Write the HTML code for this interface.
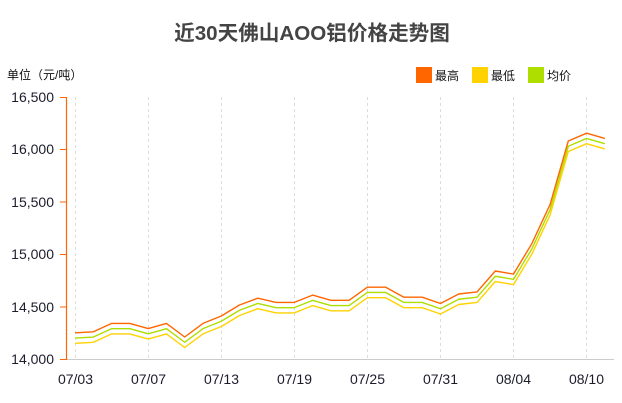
<!DOCTYPE html>
<html><head><meta charset="utf-8"><style>
html,body{margin:0;padding:0;background:#fff;}
body{width:622px;height:403px;overflow:hidden;position:relative;}
svg{position:absolute;left:0;top:0;}
</style></head><body>
<svg width="622" height="403" viewBox="0 0 622 403" xmlns="http://www.w3.org/2000/svg">
<text x="312" y="40" text-anchor="middle" font-family="'Liberation Sans','Noto Sans CJK SC',sans-serif" font-size="20.6" font-weight="bold" fill="#444">近30天佛山AOO铝价格走势图</text>
<text x="7" y="79" font-family="'Liberation Sans','Noto Sans CJK SC',sans-serif" font-size="12" fill="#111">单位（元/吨）</text>
<rect x="416" y="67" width="16" height="16" fill="#FF6600"/>
<text x="435" y="80" font-family="'Liberation Sans','Noto Sans CJK SC',sans-serif" font-size="12" fill="#111">最高</text>
<rect x="472" y="67" width="16" height="16" fill="#FFD200"/>
<text x="491" y="80" font-family="'Liberation Sans','Noto Sans CJK SC',sans-serif" font-size="12" fill="#111">最低</text>
<rect x="528" y="67" width="16" height="16" fill="#AEDD00"/>
<text x="547" y="80" font-family="'Liberation Sans','Noto Sans CJK SC',sans-serif" font-size="12" fill="#111">均价</text>
<g stroke="#dcdcdc" stroke-width="1" stroke-dasharray="3,3">
<line x1="75.5" y1="97" x2="75.5" y2="359"/>
<line x1="148.5" y1="97" x2="148.5" y2="359"/>
<line x1="221.5" y1="97" x2="221.5" y2="359"/>
<line x1="294.5" y1="97" x2="294.5" y2="359"/>
<line x1="367.5" y1="97" x2="367.5" y2="359"/>
<line x1="440.5" y1="97" x2="440.5" y2="359"/>
<line x1="513.5" y1="97" x2="513.5" y2="359"/>
<line x1="586.5" y1="97" x2="586.5" y2="359"/>
</g>
<line x1="66" y1="359.5" x2="614" y2="359.5" stroke="#cccccc" stroke-width="1"/>
<line x1="66.5" y1="97" x2="66.5" y2="360" stroke="#FF6600" stroke-width="1.2"/>
<g stroke="#FF6600" stroke-width="1">
<line x1="60" y1="97.5" x2="66" y2="97.5"/>
<line x1="60" y1="149.5" x2="66" y2="149.5"/>
<line x1="60" y1="202" x2="66" y2="202"/>
<line x1="60" y1="254.5" x2="66" y2="254.5"/>
<line x1="60" y1="307" x2="66" y2="307"/>
<line x1="60" y1="359.5" x2="66" y2="359.5"/>
</g>
<g font-family="'Liberation Sans',sans-serif" font-size="14" fill="#1c1c2c" text-anchor="end">
<text x="54" y="102">16,500</text>
<text x="54" y="154">16,000</text>
<text x="54" y="207">15,500</text>
<text x="54" y="259">15,000</text>
<text x="54" y="312">14,500</text>
<text x="54" y="364">14,000</text>
</g>
<g font-family="'Liberation Sans',sans-serif" font-size="14" fill="#1c1c2c" text-anchor="middle">
<text x="75.5" y="384">07/03</text>
<text x="148.5" y="384">07/07</text>
<text x="221.5" y="384">07/13</text>
<text x="294.5" y="384">07/19</text>
<text x="367.5" y="384">07/25</text>
<text x="440.5" y="384">07/31</text>
<text x="513.5" y="384">08/04</text>
<text x="586.5" y="384">08/10</text>
</g>
<defs>
<polyline id="s" fill="none" stroke-width="1.4" stroke-linejoin="round" points="75.1,332.8 93.4,331.8 111.7,323.4 129.9,323.4 148.2,328.6 166.5,323.4 184.7,337.0 203.0,323.4 221.3,316.0 239.5,305.0 257.8,298.2 276.1,302.4 294.3,302.4 312.6,295.1 330.9,300.3 349.1,300.3 367.4,287.2 385.7,287.2 403.9,297.2 422.2,297.2 440.5,303.5 458.7,294.0 477.0,291.9 495.3,271.0 513.5,274.1 531.8,243.7 550.1,204.4 568.3,141.0 586.6,133.2 604.9,138.4"/>
</defs>
<use href="#s" stroke="#FFD200" transform="translate(0,10.5)"/>
<use href="#s" stroke="#AEDD00" transform="translate(0,5.25)"/>
<use href="#s" stroke="#FF6600"/>
</svg>
</body></html>
